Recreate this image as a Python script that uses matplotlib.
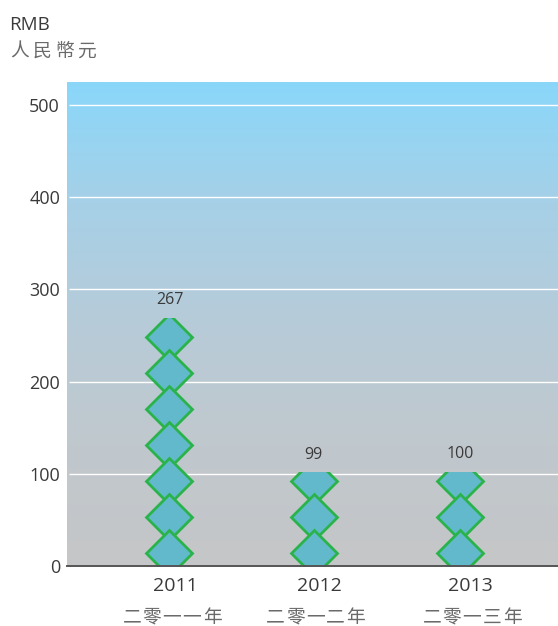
import matplotlib

matplotlib.use("Agg")
import matplotlib.pyplot as plt
import numpy as np
from matplotlib.colors import LinearSegmentedColormap
from matplotlib.patches import Rectangle
from matplotlib.transforms import offset_copy

years = ["2011", "2012", "2013"]
years_zh = ["二零一一年", "二零一二年", "二零一三年"]
values = [267, 99, 100]
yticks = [0, 100, 200, 300, 400, 500]

# one diamond stands for this many RMB
UNIT = 39
BAR_X = [0, 0.99, 2.0]
LATIN = "Open Sans"
CJK = "Noto Sans CJK TC"
DARK = "#3a3a3a"
GREY = "#6a6a6a"


def spaced_text(fig, x, y, text, pitch, size, color):
    # CJK labels in the original are letter-spaced, so place them one by one
    start = x - pitch * (len(text) - 1) / 2
    for i, ch in enumerate(text):
        fig.text((start + i * pitch) / 558, 1 - y / 626, ch, family=CJK,
                 fontsize=size, color=color, ha="center", va="center")


fig = plt.figure(figsize=(5.58, 6.26), dpi=100)
ax = fig.add_axes([67 / 558, 60 / 626, 491 / 558, 484 / 626])
ax.set_xlim(-0.704, 2.67)
ax.set_ylim(0, 525)

cmap = LinearSegmentedColormap.from_list(
    "bg",
    [(0, "#8ad7fa"), (0.25, "#a6d0e7"), (0.5, "#b7cbd8"),
     (0.75, "#c0c8cd"), (1, "#c5c6c8")],
)
grad = np.linspace(0, 1, 256).reshape(-1, 1)
ax.imshow(grad, cmap=cmap, extent=(-0.704, 2.67, 0, 525), aspect="auto", zorder=0)

ax.hlines(yticks[1:], -0.69, 2.67, color="white", lw=1.0, zorder=1)

for x, v in zip(BAR_X, values):
    clip = Rectangle((x - 0.3, 0), 0.6, v + 2.5, transform=ax.transData)
    n = int(np.ceil(v / UNIT))
    # lower diamonds overlap the ones above them, so draw from the top down
    for i in range(n - 1, -1, -1):
        m, = ax.plot([x], [14.5 + i * UNIT], marker="D", ms=23.4, mfc="#62b9cb",
                     mec="#2bb34b", mew=2.0, zorder=3, clip_on=True)
        m.set_clip_path(clip)
    label_tr = offset_copy(ax.transData, fig=fig, x=0, y=14, units="points")
    ax.text(x, v, str(v), transform=label_tr, family=LATIN, fontsize=11.5,
            color=DARK, ha="center", va="center", zorder=4)

ax.set_yticks(yticks)
ax.set_yticklabels([str(t) for t in yticks], family=LATIN, fontsize=13, color=DARK)
ax.tick_params(axis="y", length=0, pad=5)
ax.set_xticks([])
for side in ["top", "right", "left"]:
    ax.spines[side].set_visible(False)
ax.spines["bottom"].set_color("#555555")
ax.spines["bottom"].set_linewidth(1.4)
ax.spines["bottom"].set_zorder(5)

for px, label in zip([175.5, 319.5, 470], years):
    fig.text(px / 558, 1 - 586 / 626, label, family=LATIN, fontsize=14,
             color=DARK, ha="center", va="center")
for px, label in zip([172, 315.5, 472], years_zh):
    spaced_text(fig, px, 617, label, 20, 13.5, GREY)

fig.text(9 / 558, 1 - 25 / 626, "RMB", family=LATIN, fontsize=13.5, color=DARK,
         ha="left", va="center")
spaced_text(fig, 53.5, 51, "人民幣元", 22.3, 13.5, GREY)

fig.savefig("out.png", dpi=100)
